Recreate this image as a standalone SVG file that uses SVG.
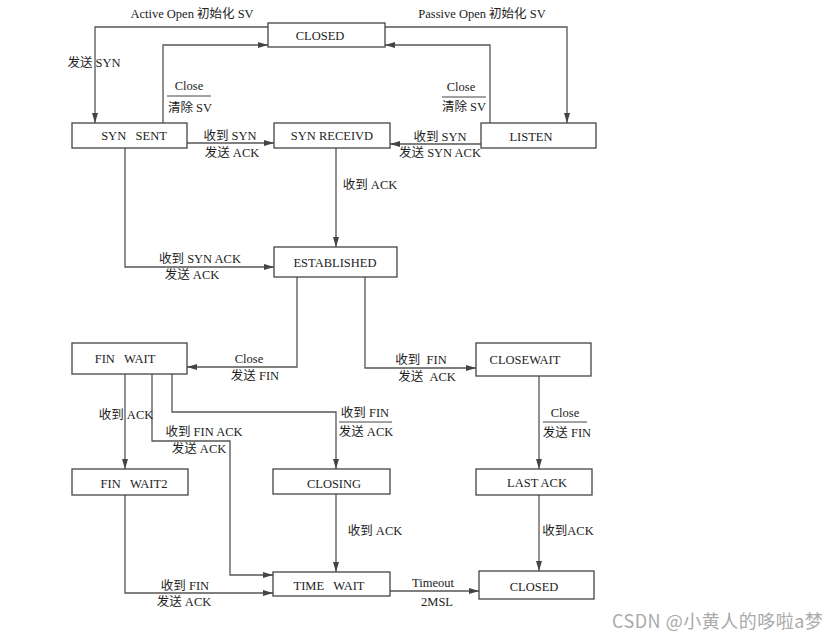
<svg xmlns="http://www.w3.org/2000/svg" width="837" height="639" viewBox="0 0 837 639">
<defs>
<marker id="ah" markerUnits="userSpaceOnUse" markerWidth="10" markerHeight="7" refX="10" refY="3.5" orient="auto">
<path d="M0,0.5 L10,3.5 L0,6.5 z" fill="#444"/>
</marker>
<style>
.n rect{fill:#fff;stroke:#444;stroke-width:1.3}
.n text{font-family:"Liberation Serif","Noto Sans CJK SC",serif;font-size:12.5px;fill:#222;text-anchor:middle}
.c path{fill:none;stroke:#555;stroke-width:1.3;marker-end:url(#ah)}
.c line{stroke:#444;stroke-width:1}
.l{font-family:"Liberation Serif","Noto Sans CJK SC",serif;font-size:12.5px;fill:#222;text-anchor:middle}
.w{font-family:"Noto Sans CJK SC","Noto Sans",sans-serif;font-size:18px;letter-spacing:0.5px;fill:#aaa}
</style>
</defs>
<rect width="837" height="639" fill="#fff"/>
<g id="connectors" class="c">
<path d="M268,27 H95 V123"/>
<path d="M163,123 V45 H268"/>
<path d="M385,27 H567 V123"/>
<path d="M490,123 V45 H385"/>
<path d="M187,143 H274"/>
<path d="M481,144 H390"/>
<path d="M336,148 V247"/>
<path d="M125,148 V267 H274"/>
<path d="M297,277 V367 H187"/>
<path d="M365,277 V368 H476"/>
<path d="M125,374 V469"/>
<path d="M152,374 V441 H230 V575 H273"/>
<path d="M172,374 V412 H336 V469"/>
<path d="M539,376 V469"/>
<path d="M125,495 V593 H273"/>
<path d="M336,494 V572"/>
<path d="M539,495 V571"/>
<path d="M390,591 H479"/>
<line x1="167" y1="96" x2="211" y2="96"/>
<line x1="442" y1="97" x2="486" y2="97"/>
<line x1="339" y1="422" x2="392" y2="422"/>
<line x1="543" y1="422" x2="587" y2="422"/>
</g>
<g id="labels">
<text class="l" x="192" y="18">Active Open 初始化 SV</text>
<text class="l" x="482" y="18">Passive Open 初始化 SV</text>
<text class="l" x="94" y="67">发送 SYN</text>
<text class="l" x="189" y="90">Close</text>
<text class="l" x="190" y="112">清除 SV</text>
<text class="l" x="461" y="91">Close</text>
<text class="l" x="464" y="111">清除 SV</text>
<text class="l" x="230" y="140">收到 SYN</text>
<text class="l" x="232" y="157">发送 ACK</text>
<text class="l" x="440" y="141">收到 SYN</text>
<text class="l" x="440" y="157">发送 SYN ACK</text>
<text class="l" x="370" y="189">收到 ACK</text>
<text class="l" x="200" y="263">收到 SYN ACK</text>
<text class="l" x="192" y="279">发送 ACK</text>
<text class="l" x="249" y="363">Close</text>
<text class="l" x="255" y="380">发送 FIN</text>
<text class="l" x="421" y="364" xml:space="preserve">收到  FIN</text>
<text class="l" x="427" y="381" xml:space="preserve">发送  ACK</text>
<text class="l" x="126" y="419">收到 ACK</text>
<text class="l" x="204" y="436">收到 FIN ACK</text>
<text class="l" x="199" y="453">发送 ACK</text>
<text class="l" x="365" y="417">收到 FIN</text>
<text class="l" x="366" y="436">发送 ACK</text>
<text class="l" x="565" y="417">Close</text>
<text class="l" x="567" y="437">发送 FIN</text>
<text class="l" x="375" y="535">收到 ACK</text>
<text class="l" x="568" y="535">收到ACK</text>
<text class="l" x="185" y="590">收到 FIN</text>
<text class="l" x="184" y="606">发送 ACK</text>
<text class="l" x="433" y="587">Timeout</text>
<text class="l" x="437" y="606">2MSL</text>
</g>
<g id="closed-top" class="n"><rect x="268" y="23" width="117" height="24"/><text x="320" y="40">CLOSED</text></g>
<g id="syn-sent" class="n"><rect x="72" y="123" width="115" height="25"/><text x="134" y="140" xml:space="preserve">SYN   SENT</text></g>
<g id="syn-receivd" class="n"><rect x="274" y="123" width="116" height="25"/><text x="332" y="140">SYN RECEIVD</text></g>
<g id="listen" class="n"><rect x="481" y="123" width="115" height="25"/><text x="531" y="141">LISTEN</text></g>
<g id="established" class="n"><rect x="274" y="247" width="123" height="30"/><text x="335" y="267">ESTABLISHED</text></g>
<g id="fin-wait" class="n"><rect x="72" y="343" width="115" height="31"/><text x="125" y="363" xml:space="preserve">FIN   WAIT</text></g>
<g id="closewait" class="n"><rect x="476" y="343" width="115" height="33"/><text x="525" y="364">CLOSEWAIT</text></g>
<g id="fin-wait2" class="n"><rect x="72" y="469" width="116" height="26"/><text x="134" y="488" xml:space="preserve">FIN   WAIT2</text></g>
<g id="closing" class="n"><rect x="273" y="469" width="117" height="25"/><text x="334" y="488">CLOSING</text></g>
<g id="last-ack" class="n"><rect x="476" y="469" width="116" height="26"/><text x="537" y="487">LAST ACK</text></g>
<g id="time-wait" class="n"><rect x="273" y="572" width="117" height="24"/><text x="329" y="590" xml:space="preserve">TIME   WAIT</text></g>
<g id="closed-bottom" class="n"><rect x="479" y="571" width="115" height="28"/><text x="534" y="591">CLOSED</text></g>
<text class="w" x="612" y="628">CSDN @小黄人的哆啦a梦</text>
</svg>
